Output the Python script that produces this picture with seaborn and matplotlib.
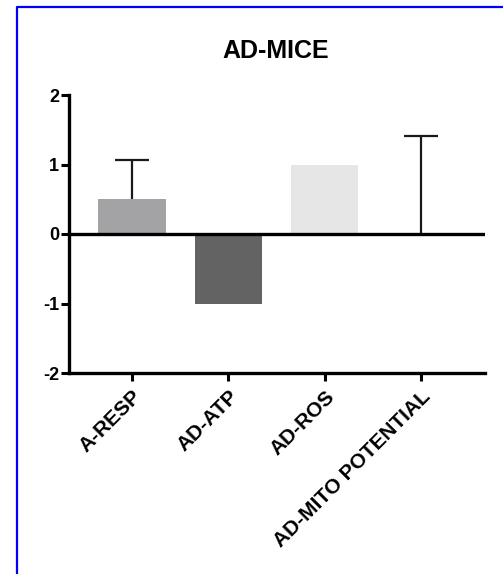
import matplotlib
matplotlib.use("Agg")
import matplotlib.pyplot as plt
import seaborn as sns
import pandas as pd
from matplotlib.lines import Line2D

categories = ["A-RESP", "AD-ATP", "AD-ROS", "AD-MITO POTENTIAL"]
values = [0.5, -1.0, 1.0, 0.0]
errors_up = [0.57, 0.0, 0.0, 1.41]
colors = ["#a2a2a7", "#636363", "#e6e6e6", "#ffffff"]
yticks = [-2, -1, 0, 1, 2]
title = "AD-MICE"

sns.set_theme(style="white")
plt.rcParams["font.family"] = ["Liberation Sans", "DejaVu Sans"]
plt.rcParams["text.color"] = "black"
plt.rcParams["xtick.color"] = "black"
plt.rcParams["ytick.color"] = "black"
plt.rcParams["xtick.labelcolor"] = "black"
plt.rcParams["ytick.labelcolor"] = "black"

df = pd.DataFrame({"cat": categories, "val": values})

fig = plt.figure(figsize=(5.03, 5.74), dpi=100)
ax = fig.add_axes([69/503, 1-373/574, (485-69)/503, (373-95)/574])

sns.barplot(data=df, x="cat", y="val", hue="cat", palette=colors, legend=False,
            width=0.7, ax=ax, errorbar=None, edgecolor="none", zorder=2)

for i, (v, e) in enumerate(zip(values, errors_up)):
    if e > 0:
        eb = ax.errorbar(i, v, yerr=[[0], [e]], fmt="none", ecolor="#1a1a1a",
                         elinewidth=1.6, capsize=12, capthick=1.6, zorder=3)
        caps = eb[1]
        if len(caps) >= 2:
            caps[0].set_visible(False)

ax.axhline(0, color="black", lw=2.4, zorder=4)

ax.set_xlim(-0.655, 3.665)
ax.set_ylim(-2, 2)
ax.set_yticks(yticks)
ax.set_yticklabels([str(t) for t in yticks], fontsize=13, fontweight="bold",
                   color="black")
ax.set_xlabel("")
ax.set_ylabel("")
ax.set_xticks(range(len(categories)))
ax.set_xticklabels(categories, rotation=45, ha="right", rotation_mode="anchor",
                   fontsize=15, fontweight="bold", color="black")

for s in ["top", "right"]:
    ax.spines[s].set_visible(False)
for s in ["left", "bottom"]:
    ax.spines[s].set_linewidth(2.4)
    ax.spines[s].set_color("black")

ax.tick_params(axis="both", which="major", direction="out", length=6, width=2.2,
               color="black", left=True, bottom=True, pad=1)
ax.tick_params(axis="x", pad=4)

fig.text(276/503, 1-58/574, title, ha="center", va="baseline",
         fontsize=18, fontweight="bold", color="black")

# blue frame (cropped screenshot border)
fig.add_artist(Line2D([17/503, 17/503, 1.0], [0.0, 1-7/574, 1-7/574],
                      transform=fig.transFigure, color="#0000ff", lw=1.6))

fig.savefig("out.png", dpi=100, facecolor="white")
